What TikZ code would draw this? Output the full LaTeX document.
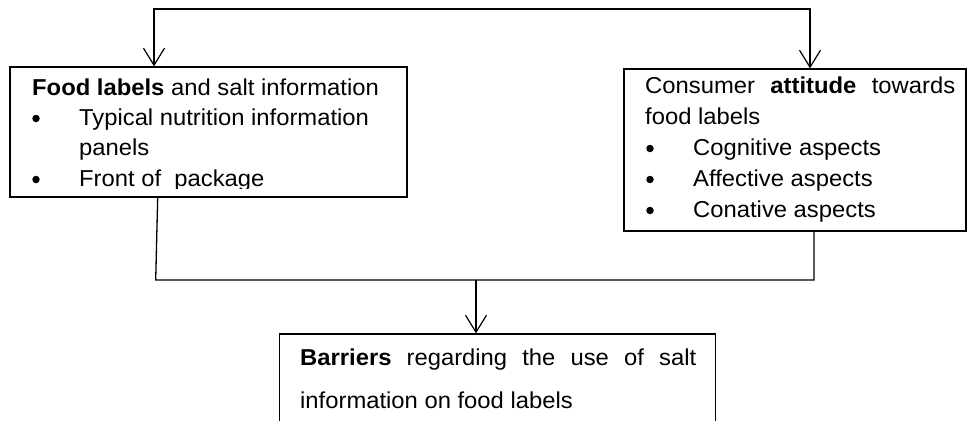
\documentclass[tikz,border=0pt]{standalone}
\usepackage{fontspec}
\setmainfont{Liberation Sans}[FakeStretch=1.035]
\usetikzlibrary{arrows.meta}
\newcommand\txtsize{\fontsize{23}{30}\selectfont}
\tikzset{
  box/.style={draw=black, line width=1.3pt, inner sep=0pt, fill=none},
  conn/.style={draw=black, line width=1.3pt},
  arr/.style={conn, -{Straight Barb[length=17pt,width=21pt,line width=1.2pt]}},
  txt/.style={inner sep=0pt, anchor=base west, font=\txtsize, text=black},
  bul/.style={circle, fill=black, inner sep=0pt, minimum size=7.5pt}
}
\begin{document}
\begin{tikzpicture}[x=1pt,y=-1pt]
\clip (0,0) rectangle (968,420);
\fill[white] (0,0) rectangle (968,420);
% boxes
\node[box, minimum width=397pt, minimum height=130pt] (food) at (208.5,132) {};
\node[box, minimum width=342pt, minimum height=162pt] (att) at (795,150) {};
\node[box, minimum width=436pt, minimum height=120pt] (bar) at (497.5,394) {};
% left box text
\node[txt] (f1) at (32,95) {\textbf{Food labels} and salt information};
\node[bul] (fb1) at (36,118.5) {};
\node[txt] (f2) at (79,125) {Typical nutrition information};
\node[txt] (f3) at (79,155.5) {panels};
\begin{scope}
\clip (11,67) rectangle (406,188.5);
\node[bul] (fb2) at (36,179.5) {};
\node[txt] (f4) at (79,186) {Front of~ package};
\end{scope}
% right box text
\node[txt] (a1) at (645,93) {\makebox[310pt][s]{Consumer \textbf{attitude} towards}};
\node[txt] (a2) at (645,124) {food labels};
\node[bul] (ab1) at (650,148.5) {};
\node[txt] (a3) at (693,155) {Cognitive aspects};
\node[bul] (ab2) at (650,179.5) {};
\node[txt] (a4) at (693,186) {Affective aspects};
\node[bul] (ab3) at (650,210.5) {};
\node[txt] (a5) at (693,217) {Conative aspects};
% bottom box text
\node[txt] (b1) at (300,365) {\makebox[396pt][s]{\textbf{Barriers} regarding the use of salt}};
\node[txt] (b2) at (300,408) {information on food labels};
% connectors
\coordinate (tl) at (154,9);
\coordinate (tr) at (810,9);
\draw[conn, {Straight Barb[length=17pt,width=21pt,line width=1.2pt]}-{Straight Barb[length=17pt,width=21pt,line width=1.2pt]}]
  (tl |- food.north) -- (tl) -- (tr) -- (tr |- att.north);
\coordinate (fs) at (157.7,197);
\coordinate (bl) at (155.7,280);
\coordinate (br) at (814,280);
\coordinate (bm) at (476,280);
\draw[conn] (fs) -- (bl) -- (br) -- (br |- att.south);
\draw[arr] (bm) -- (bm |- bar.north);
\end{tikzpicture}
\end{document}
